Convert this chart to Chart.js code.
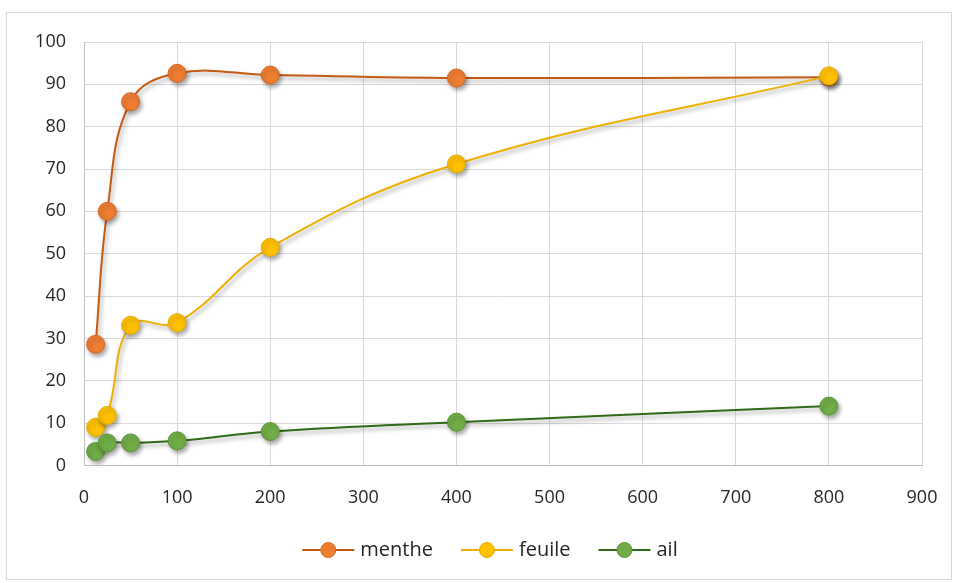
<!DOCTYPE html>
<html>
<head>
<meta charset="utf-8">
<script src="https://cdn.jsdelivr.net/npm/chart.js@4/dist/chart.umd.min.js"></script>
<style>
  html, body { margin: 0; padding: 0; background: #ffffff; }
  #wrap { position: relative; width: 955px; height: 583px; }
  #frame { position: absolute; left: 6px; top: 12px; width: 946px; height: 568px; border: 1px solid #d9d9d9; box-sizing: border-box; pointer-events: none; }
  canvas { position: absolute; left: 0; top: 0; }
</style>
</head>
<body>
<div id="wrap">
  <canvas id="c" width="955" height="583"></canvas>
  <div id="frame"></div>
</div>
<script>
// Concentrations (x) and measured percentages for each extract
const concentrations = [12.5, 25, 50, 100, 200, 400, 800];
const mentheValues = [28.6, 60.0, 85.9, 92.6, 92.2, 91.5, 91.7];
const feuileValues = [9.0, 11.8, 33.1, 33.7, 51.5, 71.2, 92.0];
const ailValues = [3.3, 5.3, 5.3, 5.8, 8.0, 10.2, 14.0];
const seriesNames = ['menthe', 'feuile', 'ail'];

const xTicks = [0, 100, 200, 300, 400, 500, 600, 700, 800, 900];
const yTicks = [0, 10, 20, 30, 40, 50, 60, 70, 80, 90, 100];

const styles = [
  { line: '#C55A11', fill: '#ED7D31', border: '#D9661F' },
  { line: '#EDB000', fill: '#FFC000', border: '#E8AC00' },
  { line: '#2E6B14', fill: '#70AD47', border: '#5A9437' }
];
// drawing order: feuile above menthe, ail on top
const drawOrder = [2, 1, 0];

function pts(vals) { return concentrations.map((x, i) => ({ x: x, y: vals[i] })); }

const seriesValues = [mentheValues, feuileValues, ailValues];
const datasets = seriesNames.map((name, i) => ({
  label: name,
  data: pts(seriesValues[i]),
  borderColor: styles[i].line,
  backgroundColor: styles[i].fill,
  pointBackgroundColor: styles[i].fill,
  pointBorderColor: styles[i].border,
  pointBorderWidth: 1,
  pointRadius: 9,
  borderWidth: 2,
  tension: 0.4,
  order: drawOrder[i]
}));

// soft drop shadow behind lines and markers
const shadowPlugin = {
  id: 'shadow',
  beforeDatasetDraw(chart) {
    const ctx = chart.ctx;
    ctx.save();
    ctx.shadowColor = 'rgba(0,0,0,0.35)';
    ctx.shadowBlur = 4;
    ctx.shadowOffsetX = 2;
    ctx.shadowOffsetY = 3;
  },
  afterDatasetDraw(chart) { chart.ctx.restore(); }
};

// line-and-marker legend below the axis
const legendPlugin = {
  id: 'lineLegend',
  afterDraw(chart) {
    const ctx = chart.ctx;
    ctx.save();
    ctx.font = '20px "Open Sans", "Liberation Sans", sans-serif';
    ctx.textBaseline = 'middle';
    const y = 550;
    const seg = 52, gapText = 6, gapItem = 28;
    const widths = seriesNames.map(n => ctx.measureText(n).width);
    const total = widths.reduce((a, w) => a + seg + gapText + w, 0) + gapItem * (seriesNames.length - 1);
    let x = 490 - total / 2;
    seriesNames.forEach((n, i) => {
      ctx.strokeStyle = styles[i].line;
      ctx.lineWidth = 2;
      ctx.beginPath(); ctx.moveTo(x, y); ctx.lineTo(x + seg, y); ctx.stroke();
      ctx.fillStyle = styles[i].fill;
      ctx.strokeStyle = styles[i].border;
      ctx.lineWidth = 1;
      ctx.beginPath(); ctx.arc(x + seg / 2, y, 7.5, 0, Math.PI * 2); ctx.fill(); ctx.stroke();
      ctx.fillStyle = '#262626';
      ctx.fillText(n, x + seg + gapText, y);
      x += seg + gapText + widths[i] + gapItem;
    });
    ctx.restore();
  }
};

new Chart(document.getElementById('c'), {
  type: 'line',
  data: { datasets: datasets },
  options: {
    responsive: false,
    animation: false,
    events: [],
    layout: { padding: { top: 42, right: 33, bottom: 52, left: 0 } },
    plugins: { legend: { display: false }, tooltip: { enabled: false } },
    scales: {
      x: {
        type: 'linear',
        min: 0, max: 900,
        afterBuildTicks(s) { s.ticks = xTicks.map(v => ({ value: v })); },
        afterFit(s) { s.paddingRight = 0; s.paddingLeft = 0; },
        grid: { color: '#d9d9d9', lineWidth: 1, drawTicks: false },
        border: { color: '#bfbfbf', width: 1 },
        ticks: { padding: 22, color: '#262626', font: { family: '"Open Sans", "Liberation Sans", sans-serif', size: 18 }, maxRotation: 0 }
      },
      y: {
        min: 0, max: 100,
        afterBuildTicks(s) { s.ticks = yTicks.map(v => ({ value: v })); },
        afterFit(s) { s.width = 84; },
        grid: { color: '#d9d9d9', lineWidth: 1, drawTicks: false },
        border: { color: '#bfbfbf', width: 1 },
        ticks: { padding: 18, color: '#262626', font: { family: '"Open Sans", "Liberation Sans", sans-serif', size: 18 } }
      }
    }
  },
  plugins: [shadowPlugin, legendPlugin]
});
</script>
</body>
</html>
